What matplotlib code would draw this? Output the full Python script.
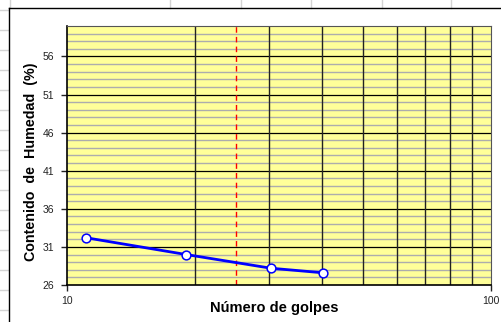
import matplotlib
matplotlib.use('Agg')
import matplotlib.pyplot as plt
from matplotlib.lines import Line2D
from matplotlib.ticker import FixedLocator, NullLocator, FixedFormatter

plt.rcParams['font.family'] = ['Liberation Sans', 'DejaVu Sans']

# ── Data ──────────────────────────────────────────────
golpes = [11.1, 19.1, 30.3, 40.2]
humedad = [32.2, 30.0, 28.2, 27.6]
golpes_ref = 25

y_ticks = [26, 31, 36, 41, 46, 51, 56]
x_tick_labels = ['10', '100']

W, H = 502, 322
fig = plt.figure(figsize=(W / 100, H / 100), dpi=100)
fig.patch.set_facecolor('white')


def px_line(x0, y0, x1, y1, color, lw=1.0):
    fig.add_artist(Line2D([x0 / W, x1 / W], [1 - y0 / H, 1 - y1 / H],
                          transform=fig.transFigure, color=color, lw=lw))


# spreadsheet cells behind the chart object
for y in range(10, 322, 20):
    px_line(0, y, 8, y, '#d4d4d4')
for x in [10, 170, 241, 311, 382, 451]:
    px_line(x, 0, x, 8, '#d4d4d4')

# chart object frame
px_line(9, 8, 502, 8, 'black')
px_line(9, 8, 9, 322, 'black')

# plot area
ax = fig.add_axes([67 / W, (H - 285) / H, 424 / W, 259 / H])
ax.set_facecolor('#FFFF99')
ax.set_xscale('log')
ax.set_xlim(10, 100)
ax.set_ylim(26, 60)

for v in range(27, 60):
    if v not in y_ticks:
        ax.axhline(v, color='#adadad', lw=1.0, zorder=1)
for v in y_ticks[1:]:
    ax.axhline(v, color='black', lw=0.9, zorder=1.5)
for v in range(20, 100, 10):
    ax.axvline(v, color='#222222', lw=1.0, zorder=1.5)

ax.axvline(golpes_ref, color='red', lw=1.0, ls=(0, (4, 3)), zorder=2)

ax.plot(golpes, humedad, color='#0000FF', lw=2.0, zorder=3,
        marker='o', markersize=6.3, markerfacecolor='white',
        markeredgecolor='#0000FF', markeredgewidth=1.1)

ax.xaxis.set_major_locator(FixedLocator([10, 100]))
ax.xaxis.set_major_formatter(FixedFormatter(x_tick_labels))
ax.xaxis.set_minor_locator(NullLocator())
ax.set_yticks(y_ticks)
ax.tick_params(axis='both', labelsize=7.5, length=4, width=1, colors='#222222')
ax.tick_params(axis='x', pad=4)
ax.tick_params(axis='y', pad=5)

for s in ['top', 'right']:
    ax.spines[s].set_color('#555555')
for s in ['left', 'bottom']:
    ax.spines[s].set_color('black')
    ax.spines[s].set_linewidth(1.2)

ax.set_xlabel('Número de golpes', fontsize=10.5, fontweight='bold')
ax.xaxis.set_label_coords(0.489, -0.062)
ax.set_ylabel('Contenido  de  Humedad  (%)', fontsize=10.3, fontweight='bold')
ax.yaxis.set_label_coords(-0.068, 0.477)

fig.savefig('out.png', dpi=100)
